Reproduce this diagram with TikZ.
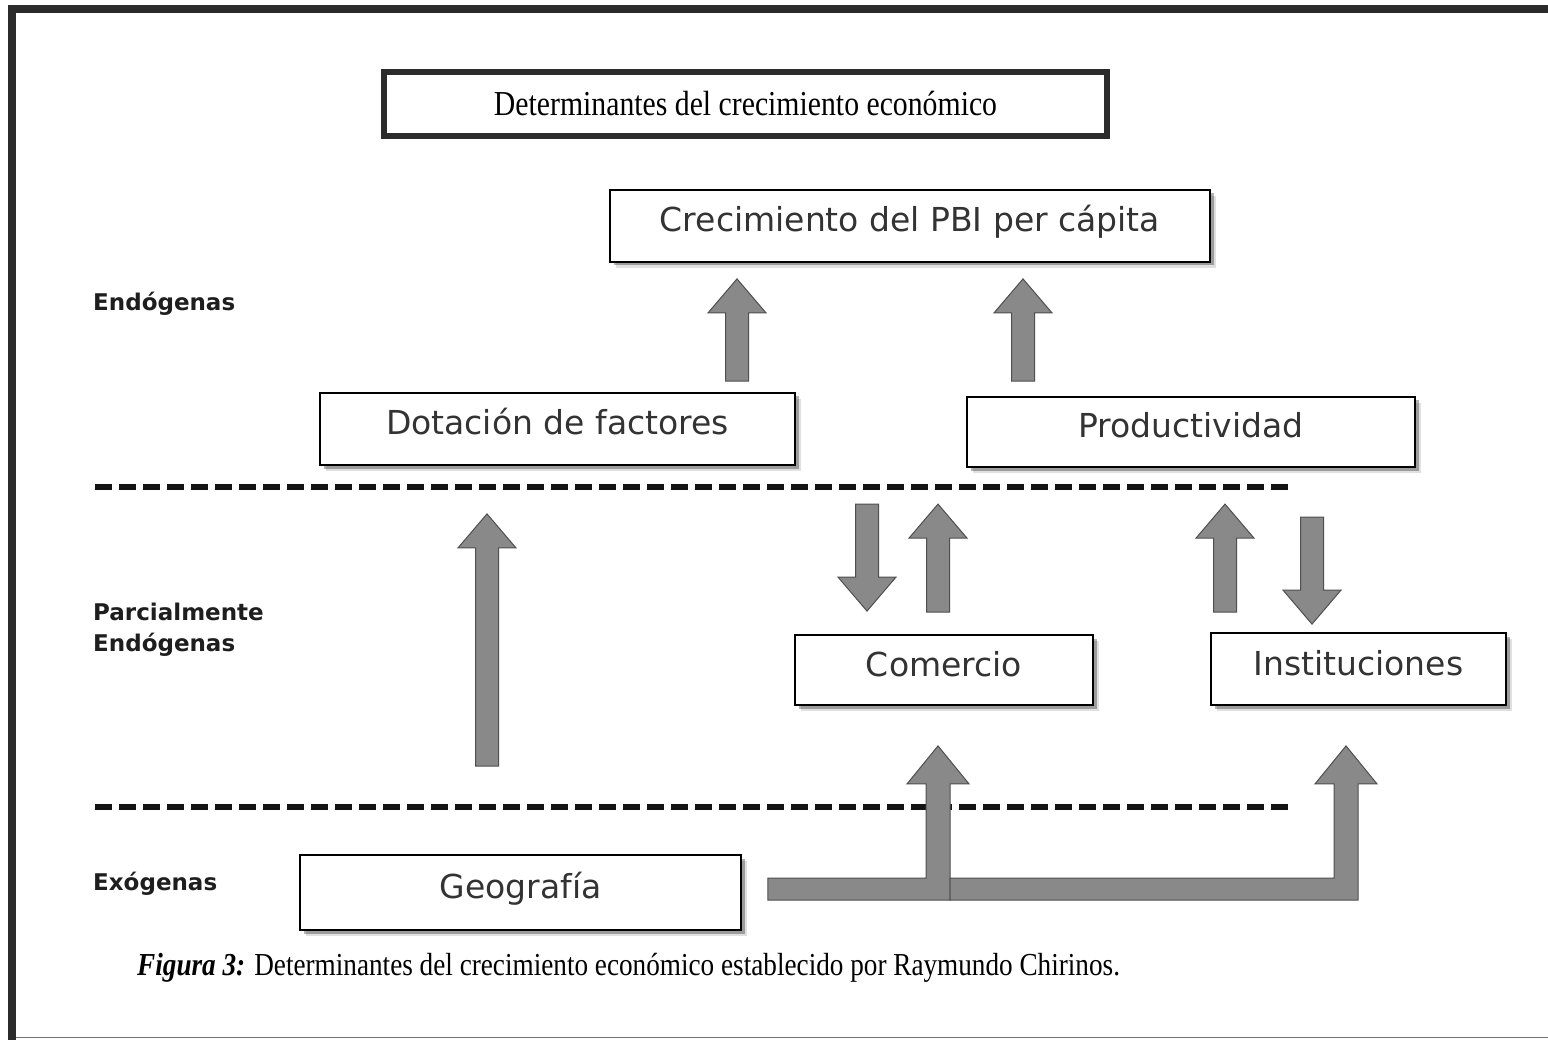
\documentclass[tikz,border=0pt]{standalone}
\usepackage{fontspec}
\setmainfont{Liberation Serif}
\newfontfamily\boxfont{DejaVu Sans}
\newfontfamily\capfont[FakeStretch=0.85]{Liberation Serif}
\usetikzlibrary{shadows,calc}
\definecolor{framecol}{HTML}{2B2B2B}
\definecolor{arrowfill}{HTML}{898989}
\definecolor{arrowline}{HTML}{4F4F4F}
\definecolor{boxtext}{HTML}{333333}
\definecolor{lbltext}{HTML}{1E1E1E}
\tikzset{
  box/.style={draw=black, line width=1.8pt, fill=white, inner sep=0pt,
    font=\boxfont\fontsize{33}{40}\selectfont, text=boxtext,
    text height=25pt, text depth=13pt,
    drop shadow={shadow xshift=6pt, shadow yshift=-6pt, opacity=0.12, fill=black},
    drop shadow={shadow xshift=3.5pt, shadow yshift=-3.5pt, opacity=0.3, fill=black}},
  titlebox/.style={draw=framecol, line width=6pt, fill=white, inner sep=0pt,
    font=\capfont\fontsize{35}{40}\selectfont, text height=23pt, text depth=0pt},
  lbl/.style={inner sep=0pt, anchor=base west, text=lbltext,
    font=\boxfont\bfseries\fontsize{23}{31}\selectfont},
  sepline/.style={line width=6pt, draw=black!92, dash pattern=on 17pt off 7pt},
  fatarrow/.style={fill=arrowfill, draw=arrowline, line width=1pt, line join=miter},
}
\newcommand\fatup[2]{\path[fatarrow] let \p1=(#1), \p2=(#2) in
  (\x1-11.5pt,\y1) -- (\x1-11.5pt,\y2-34pt) -- (\x1-29pt,\y2-34pt) -- (\x1,\y2)
  -- (\x1+29pt,\y2-34pt) -- (\x1+11.5pt,\y2-34pt) -- (\x1+11.5pt,\y1) -- cycle;}
\newcommand\fatdown[2]{\path[fatarrow] let \p1=(#1), \p2=(#2) in
  (\x1-11.5pt,\y1) -- (\x1-11.5pt,\y2+34pt) -- (\x1-29pt,\y2+34pt) -- (\x1,\y2)
  -- (\x1+29pt,\y2+34pt) -- (\x1+11.5pt,\y2+34pt) -- (\x1+11.5pt,\y1) -- cycle;}
\newcommand\fatbent[2]{\path[fatarrow] let \p1=(#1), \p2=(#2) in
  (\x1,\y1+11pt) -- (\x2-12pt,\y1+11pt) -- (\x2-12pt,\y2-38pt) -- (\x2-31pt,\y2-38pt)
  -- (\x2,\y2) -- (\x2+31pt,\y2-38pt) -- (\x2+12pt,\y2-38pt) -- (\x2+12pt,\y1-11pt)
  -- (\x1,\y1-11pt) -- cycle;}
\begin{document}
\begin{tikzpicture}[x=1pt, y=-1pt]
\useasboundingbox (0,0) rectangle (1548,1040);
\fill[white] (0,0) rectangle (1548,1040);
% outer frame
\draw[framecol, line width=8pt] (12,1040) -- (12,9) -- (1548,9);
\draw[black!55, line width=1.5pt] (16,1037.5) -- (1548,1037.5);

% title
\node[titlebox, minimum width=723pt, minimum height=64pt] (title) at (745.5,104)
  {Determinantes del crecimiento económico};

% separators
\draw[sepline] (95,487) -- (1290,487);
\draw[sepline] (95,807) -- (1290,807);

% level labels
\node[lbl] (lend) at (93,310.5) {Endógenas};
\node[lbl] (lpar1) at (93,620.5) {Parcialmente};
\node[lbl] (lpar2) at (93,651.5) {Endógenas};
\node[lbl] (lexo) at (93,890.5) {Exógenas};

% boxes
\node[box, minimum width=600pt, minimum height=72pt] (crec) at (910,226) {Crecimiento del PBI per cápita};
\node[box, minimum width=475pt, minimum height=72pt] (dot) at (557.5,429) {Dotación de factores};
\node[box, minimum width=448pt, minimum height=70pt] (prod) at (1191,432) {Productividad};
\node[box, minimum width=298pt, minimum height=70pt] (com) at (944,670) {Comercio};
\node[box, minimum width=295pt, minimum height=72pt] (inst) at (1358.5,669) {Instituciones};
\node[box, minimum width=441pt, minimum height=75pt] (geo) at (520.5,892.5) {Geografía};

% arrow end points
\coordinate (a1b) at ([xshift=179.5pt,yshift=11pt]dot.north);
\coordinate (a1t) at ([xshift=-173pt,yshift=-16pt]crec.south);
\coordinate (a2b) at ([xshift=-168pt,yshift=15pt]prod.north);
\coordinate (a2t) at ([xshift=113pt,yshift=-16pt]crec.south);
\coordinate (a3b) at ([xshift=-33.5pt,yshift=88pt]geo.north);
\coordinate (a3t) at ([xshift=-70.5pt,yshift=-48pt]dot.south);
\coordinate (a4s) at ([xshift=-77pt,yshift=130pt]com.north);
\coordinate (a4t) at ([xshift=-77pt,yshift=23pt]com.north);
\coordinate (a5b) at ([xshift=-6pt,yshift=22pt]com.north);
\coordinate (a5t) at ([xshift=-6pt,yshift=130pt]com.north);
\coordinate (a6b) at ([xshift=-133.5pt,yshift=20pt]inst.north);
\coordinate (a6t) at ([xshift=-133.5pt,yshift=128pt]inst.north);
\coordinate (a7s) at ([xshift=-46.5pt,yshift=115pt]inst.north);
\coordinate (a7t) at ([xshift=-46.5pt,yshift=8pt]inst.north);
\coordinate (g0) at ([xshift=26pt,yshift=3.5pt]geo.east);
\coordinate (gt1) at ([xshift=-6pt,yshift=-40pt]com.south);
\coordinate (gt2) at ([xshift=-12.5pt,yshift=-40pt]inst.south);
\path (gt1 |- g0) ++(12pt,0pt) coordinate (g1);

% arrows
\fatup{a1b}{a1t}
\fatup{a2b}{a2t}
\fatup{a3b}{a3t}
\fatdown{a4s}{a4t}
\fatup{a5b}{a5t}
\fatup{a6b}{a6t}
\fatdown{a7s}{a7t}
\fatbent{g0}{gt1}
\fatbent{g1}{gt2}

% caption
\node[inner sep=0pt, anchor=base west, font=\capfont\fontsize{32}{38}\selectfont] (cap) at (137,975)
  {\textbf{\textit{Figura 3:}} Determinantes del crecimiento económico establecido por Raymundo Chirinos.};
\end{tikzpicture}
\end{document}
